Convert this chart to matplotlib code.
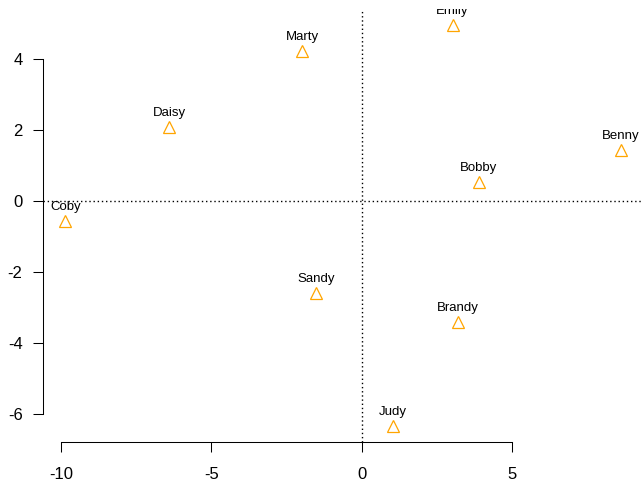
import matplotlib
matplotlib.use("Agg")
import matplotlib.pyplot as plt

names = ["Emily", "Marty", "Daisy", "Benny", "Bobby", "Coby", "Sandy", "Brandy", "Judy"]
xs = [3.03, -1.97, -6.40, 8.63, 3.90, -9.87, -1.53, 3.20, 1.03]
ys = [4.96, 4.23, 2.08, 1.44, 0.54, -0.56, -2.59, -3.41, -6.34]
xticks = [-10, -5, 0, 5]
yticks = [-6, -4, -2, 0, 2, 4]

plt.rcParams['font.family'] = ['Liberation Sans', 'DejaVu Sans']

W, H = 642, 482
fig = plt.figure(figsize=(W / 100, H / 100), dpi=100)
ax = fig.add_axes([43 / W, (H - 442) / H, (643 - 43) / W, (442 - 9) / H])

ax.axhline(0, color='black', linestyle=(0, (1, 2)), linewidth=1.0)
ax.axvline(0, color='black', linestyle=(0, (1, 2)), linewidth=1.0)
ax.plot(xs, ys, linestyle='none', marker='^', markersize=8, markerfacecolor='none',
        markeredgecolor='#FFA500', markeredgewidth=0.9)
for n, x, y in zip(names, xs, ys):
    ax.annotate(n, (x, y), xytext=(0, 10), textcoords='offset points', ha='center', va='center',
                fontsize=9.5, annotation_clip=False, clip_on=True)

rx = max(xs) - min(xs)
ry = max(ys) - min(ys)
ax.set_xlim(min(xs) - 0.04 * rx, max(xs) + 0.04 * rx)
ax.set_ylim(min(ys) - 0.04 * ry, max(ys) + 0.04 * ry)

for s in ['top', 'right']:
    ax.spines[s].set_visible(False)
ax.spines['left'].set_bounds(min(yticks), max(yticks))
ax.spines['bottom'].set_bounds(min(xticks), max(xticks))
ax.set_xticks(xticks)
ax.set_yticks(yticks)
ax.set_xticklabels([str(t) for t in xticks])
ax.set_yticklabels([str(t) for t in yticks])
ax.tick_params(direction='out', length=7.2, width=0.75, labelsize=12)
ax.tick_params(axis='x', pad=11)
ax.tick_params(axis='y', pad=7.5)
for s in ['left', 'bottom']:
    ax.spines[s].set_linewidth(0.75)

fig.savefig("out.png", dpi=100)
